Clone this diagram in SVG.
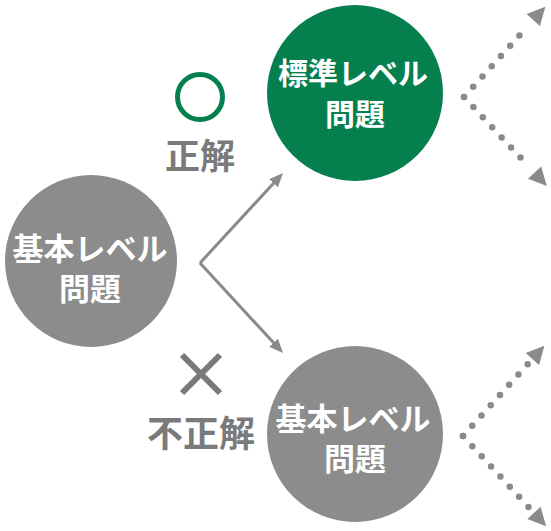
<svg xmlns="http://www.w3.org/2000/svg" width="551" height="531" viewBox="0 0 551 531">
<style>
.node-text{font-family:"Noto Sans CJK JP","Noto Sans",sans-serif;font-weight:700;fill:#fff;text-anchor:middle}
.label{font-family:"Noto Sans CJK JP","Noto Sans",sans-serif;font-weight:700;fill:#7a7a7a;text-anchor:middle}
.solid{fill:none;stroke:#8a8a8a;stroke-width:3}
.dotted{fill:none;stroke:#8a8a8a;stroke-width:6.5;stroke-linecap:round;stroke-dasharray:0 13.8}
</style>
<defs>
<marker id="ah" markerUnits="userSpaceOnUse" markerWidth="16" markerHeight="14" viewBox="0 -7 16 14" refX="10" refY="0" orient="auto">
<path d="M0,-6 L14,0 L0,6 z" fill="#8a8a8a"/>
</marker>
<marker id="ahd" markerUnits="userSpaceOnUse" markerWidth="40" markerHeight="24" viewBox="-12 -12 40 24" refX="-7" refY="0" orient="auto">
<path d="M0,-9 L18,0 L0,9 z" fill="#8a8a8a"/>
</marker>
</defs>
<g id="connectors">
<path class="solid" d="M200,263 L280.3,175.9" marker-end="url(#ah)"/>
<path class="solid" d="M200,263 L280.3,350.1" marker-end="url(#ah)"/>
<path class="dotted" d="M464,97 L528.6,25.3" marker-end="url(#ahd)"/>
<path class="dotted" d="M464,97 L529.8,167.6" marker-end="url(#ahd)"/>
<path class="dotted" d="M463,436 L527.7,364.2" marker-end="url(#ahd)"/>
<path class="dotted" d="M463,436 L529.2,507.8" marker-end="url(#ahd)"/>
</g>
<g id="node-left">
<circle cx="91" cy="261" r="86" fill="#8c8c8c"/>
<text class="node-text" x="90" y="260" font-size="31">基本レベル</text>
<text class="node-text" x="90" y="300" font-size="31">問題</text>
</g>
<g id="node-top">
<circle cx="355" cy="93" r="88" fill="#067f4f"/>
<text class="node-text" x="353" y="84" font-size="30">標準レベル</text>
<text class="node-text" x="355" y="125" font-size="30">問題</text>
</g>
<g id="node-bottom">
<circle cx="355" cy="434" r="88" fill="#8c8c8c"/>
<text class="node-text" x="353" y="430" font-size="31">基本レベル</text>
<text class="node-text" x="355" y="470" font-size="31">問題</text>
</g>
<g id="label-correct">
<circle cx="200" cy="97" r="22.5" fill="none" stroke="#067f4f" stroke-width="5"/>
<text class="label" x="200" y="169" font-size="35">正解</text>
</g>
<g id="label-incorrect">
<path d="M182,355 L220,393 M220,355 L182,393" stroke="#7a7a7a" stroke-width="6" fill="none"/>
<text class="label" x="201" y="447" font-size="36">不正解</text>
</g>
</svg>
